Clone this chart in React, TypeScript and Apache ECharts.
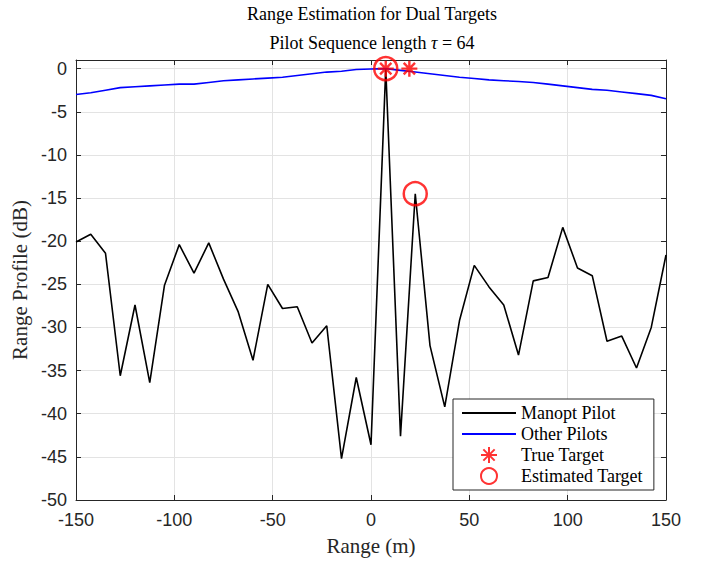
import React, { useEffect, useRef } from "react";
import * as echarts from "echarts";

const ranges = [
  -150, -142.5, -135, -127.5, -120, -112.5, -105, -97.5, -90, -82.5, -75, -67.5, -60, -52.5, -45, -37.5, -30,
  -22.5, -15, -7.5, 0, 7.5, 15, 22.5, 30, 37.5, 45, 52.5, 60, 67.5, 75, 82.5, 90, 97.5, 105, 112.5, 120, 127.5,
  135, 142.5, 150,
];
const manoptPilot = [
  -20.1, -19.2, -21.4, -35.6, -27.4, -36.4, -25.1, -20.4, -23.7, -20.2, -24.4, -28.2, -33.8, -25.0, -27.8, -27.6,
  -31.8, -29.8, -45.2, -35.8, -43.6, 0, -42.6, -14.5, -32.1, -39.2, -29.2, -22.8, -25.3, -27.4, -33.2, -24.6, -24.2,
  -18.4, -23.1, -24.0, -31.6, -31.0, -34.7, -30.0, -21.6,
];
const otherPilots = [
  -3.0, -2.8, -2.5, -2.2, -2.1, -2.0, -1.9, -1.8, -1.8, -1.6, -1.4, -1.3, -1.2, -1.1, -1.0, -0.8, -0.6, -0.4, -0.3,
  -0.1, -0.05, 0, -0.2, -0.4, -0.6, -0.8, -1.0, -1.15, -1.3, -1.4, -1.5, -1.6, -1.8, -2.0, -2.2, -2.4, -2.5, -2.7,
  -2.9, -3.1, -3.5,
];
const trueTargetRange = [7.5, 19.5];
const trueTargetValue = [0, 0];
const estTargetRange = [7.5, 22.5];
const estTargetValue = [0, -14.5];

const xTicks = { min: -150, max: 150, interval: 50 };
const yTicks = { min: -50, max: 1, interval: 5 };

const SERIF = "'Liberation Serif', 'Times New Roman', serif";
const SANS = "'Liberation Sans', Arial, Helvetica, sans-serif";
const AXIS = "#262626";
const ASTERISK = "path://M0,-1L0,1M-1,0L1,0M-0.7071,-0.7071L0.7071,0.7071M-0.7071,0.7071L0.7071,-0.7071";

export default function App() {
  const ref = useRef<HTMLDivElement>(null);
  useEffect(() => {
    if (!ref.current) return;
    const chart = echarts.init(ref.current, null, { renderer: "svg" });
    const zip = (xs: number[], ys: number[]) => xs.map((x, i) => [x, ys[i]]);
    const axisCommon = {
      type: "value" as const,
      axisLine: { show: true, onZero: false, lineStyle: { color: AXIS, width: 1 } },
      axisTick: { show: true, inside: true, length: 5, lineStyle: { color: AXIS } },
    };
    chart.setOption({
      animation: false,
      backgroundColor: "#fff",
      title: {
        text: "Range Estimation for Dual Targets",
        subtext: "Pilot Sequence length {i|τ} = 64",
        left: 372,
        top: 5,
        padding: 0,
        textAlign: "center",
        itemGap: 11,
        textStyle: { fontFamily: SERIF, fontSize: 18, fontWeight: "normal", color: "#000" },
        subtextStyle: {
          fontFamily: SERIF,
          fontSize: 18,
          color: "#000",
          rich: { i: { fontFamily: SERIF, fontSize: 18, fontStyle: "italic", color: "#000" } },
        },
      },
      grid: { left: 76, right: 44, top: 60, bottom: 59, containLabel: false },
      xAxis: [
        {
          ...axisCommon,
          ...xTicks,
          position: "bottom",
          name: "Range (m)",
          nameLocation: "middle",
          nameGap: 35,
          nameTextStyle: { fontFamily: SERIF, fontSize: 21, color: AXIS },
          axisLabel: { fontFamily: SANS, fontSize: 18, color: AXIS, margin: 11 },
          splitLine: { show: true, lineStyle: { color: "#e3e3e3", width: 1 } },
        },
        {
          ...axisCommon,
          ...xTicks,
          position: "top",
          axisLabel: { show: false },
          splitLine: { show: false },
        },
      ],
      yAxis: [
        {
          ...axisCommon,
          ...yTicks,
          position: "left",
          name: "Range Profile (dB)",
          nameLocation: "middle",
          nameGap: 44,
          nameTextStyle: { fontFamily: SERIF, fontSize: 21, color: AXIS },
          axisLabel: { fontFamily: SANS, fontSize: 18, color: AXIS, margin: 9, showMaxLabel: false },
          splitLine: { show: true, lineStyle: { color: "#e3e3e3", width: 1 } },
        },
        {
          ...axisCommon,
          ...yTicks,
          position: "right",
          axisLabel: { show: false },
          splitLine: { show: false },
        },
      ],
      legend: {
        orient: "vertical",
        left: 453,
        top: 399,
        padding: [5, 11, 5, 8],
        itemGap: 3,
        itemWidth: 54,
        itemHeight: 16,
        backgroundColor: "#fff",
        borderColor: AXIS,
        borderWidth: 1,
        borderRadius: 0,
        textStyle: { fontFamily: SERIF, fontSize: 18, color: "#000" },
        data: [
          { name: "Manopt Pilot", itemStyle: { opacity: 0 } },
          { name: "Other Pilots", itemStyle: { opacity: 0 } },
          { name: "True Target", icon: ASTERISK },
          { name: "Estimated Target", icon: "circle" },
        ],
      },
      series: [
        {
          name: "Manopt Pilot",
          type: "line",
          data: zip(ranges, manoptPilot),
          symbol: "none",
          lineStyle: { color: "#000", width: 1.6 },
          itemStyle: { color: "#000" },
          z: 2,
        },
        {
          name: "Other Pilots",
          type: "line",
          data: zip(ranges, otherPilots),
          symbol: "none",
          lineStyle: { color: "#0000ff", width: 1.6 },
          itemStyle: { color: "#0000ff" },
          z: 3,
        },
        {
          name: "True Target",
          type: "scatter",
          data: zip(trueTargetRange, trueTargetValue),
          symbol: ASTERISK,
          symbolSize: 16,
          symbolKeepAspect: true,
          itemStyle: { color: "transparent", borderColor: "#ff0000", borderWidth: 2.4 },
          z: 5,
        },
        {
          name: "Estimated Target",
          type: "scatter",
          data: zip(estTargetRange, estTargetValue),
          symbol: "circle",
          symbolSize: 23,
          itemStyle: { color: "transparent", borderColor: "#ff0000", borderWidth: 2.5 },
          z: 6,
        },
      ],
    });
    return () => chart.dispose();
  }, []);
  return <div ref={ref} style={{ width: 710, height: 561, position: "absolute", left: 0, top: 0 }} />;
}
